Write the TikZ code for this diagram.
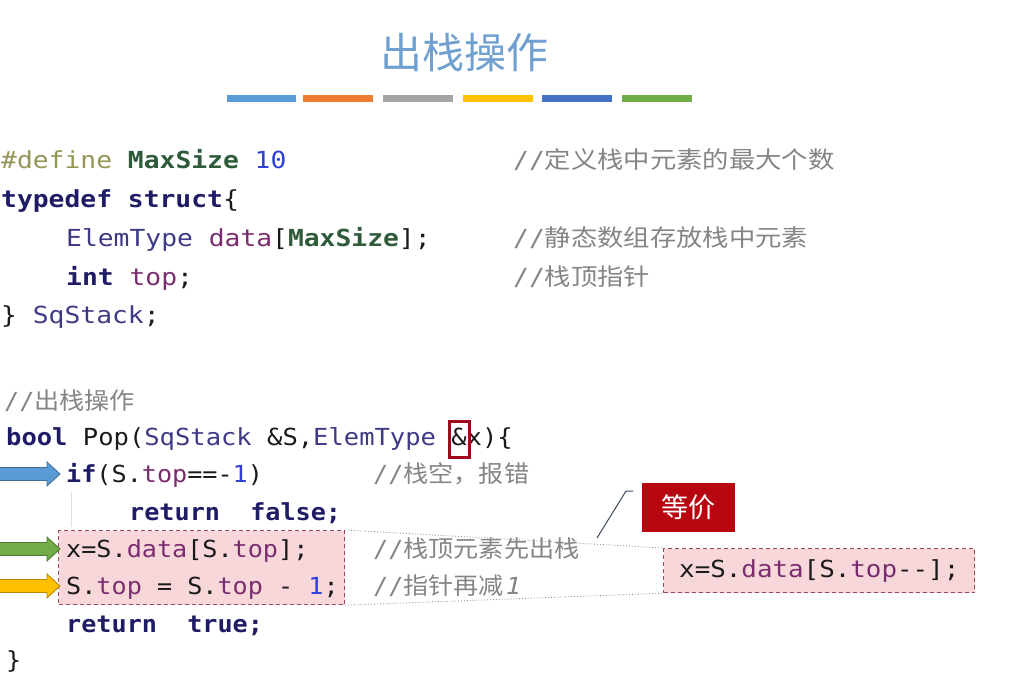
\documentclass[tikz,border=0pt]{standalone}
\usepackage{fontspec}
\usepackage{graphicx}
\setmonofont{DejaVu Sans Mono}
\newfontfamily\cjk{Noto Sans CJK SC}
\newfontfamily\slmono{DejaVu Sans Mono}[FakeSlant=0.2]
\definecolor{kwc}{HTML}{1F1C66}
\definecolor{tyc}{HTML}{3E3A86}
\definecolor{vrc}{HTML}{7A2D6E}
\definecolor{mcc}{HTML}{2F5B3B}
\definecolor{ppc}{HTML}{959558}
\definecolor{nuc}{HTML}{2F3FD8}
\definecolor{cmc}{HTML}{858585}
\definecolor{txc}{HTML}{1A1A1A}
\definecolor{titlec}{HTML}{6FA0D0}
\definecolor{barA}{HTML}{5B9BD5}
\definecolor{barB}{HTML}{ED7D31}
\definecolor{barC}{HTML}{A5A5A5}
\definecolor{barD}{HTML}{FFC000}
\definecolor{barE}{HTML}{4472C4}
\definecolor{barF}{HTML}{70AD47}
\definecolor{pinkf}{HTML}{F7D7DA}
\definecolor{pinkd}{HTML}{9A4A55}
\definecolor{ampred}{HTML}{A00A1E}
\definecolor{eqred}{HTML}{B80610}
\definecolor{dotc}{HTML}{7F9AB3}
\definecolor{calc}{HTML}{3A4A5A}
\newcommand\codefont{\fontsize{23.5}{28}\selectfont\ttfamily}
\newcommand\sx[2]{\scalebox{#1}[1]{#2}}
\newcommand\ckw[1]{\textcolor{kwc}{\bfseries #1}}
\newcommand\cty[1]{\textcolor{tyc}{#1}}
\newcommand\cvr[1]{\textcolor{vrc}{#1}}
\newcommand\cmac[1]{\textcolor{mcc}{\bfseries #1}}
\newcommand\cnu[1]{\textcolor{nuc}{#1}}
\newcommand\ccm[1]{\textcolor{cmc}{//{\cjk #1}}}
\newcommand\blockarrow[3]{\draw[draw=#3, fill=#2, line width=0.8pt]
  (-2,{#1+6.5}) -- (47,{#1+6.5}) -- (47,{#1+12}) -- (60,#1) -- (47,{#1-12}) -- (47,{#1-6.5}) -- (-2,{#1-6.5}) -- cycle;}
\begin{document}
\begin{tikzpicture}[x=1pt,y=1pt,
  code/.style={anchor=mid west, inner sep=0pt, font=\codefont, text=txc},
  pinkbox/.style={draw=pinkd, fill=pinkf, dashed, dash pattern=on 4pt off 3pt, line width=1.2pt, inner sep=0pt},
  dotline/.style={draw=dotc, dotted, line width=0.9pt},
  callout/.style={draw=calc, line width=1pt},
  guide/.style={draw=black!12, line width=0.8pt}]
\useasboundingbox (0,0) rectangle (1015,-699);
\fill[white] (0,0) rectangle (1015,-699);
% title
\node[inner sep=0pt, text=titlec, font=\cjk\fontsize{42}{46}\selectfont] (title) at (464,-53) {出栈操作};
\fill[barA] (227,-95) rectangle (296,-102);
\fill[barB] (303,-95) rectangle (373,-102);
\fill[barC] (383,-95) rectangle (453,-102);
\fill[barD] (463,-95) rectangle (533,-102);
\fill[barE] (542,-95) rectangle (612,-102);
\fill[barF] (622,-95) rectangle (692,-102);
% top block
\node[code] (l1) at (1,-166) {\sx{1.12}{\textcolor{ppc}{\#define} \cmac{MaxSize} \cnu{10}}};
\node[code] (l2) at (1,-205) {\sx{1.12}{\ckw{typedef struct}\{}};
\node[code] (l3) at (66,-244) {\sx{1.12}{\cty{ElemType} \cvr{data}[\cmac{MaxSize}];}};
\node[code] (l4) at (66,-283) {\sx{1.12}{\ckw{int} \cvr{top};}};
\node[code] (l5) at (1,-321) {\sx{1.12}{\} \cty{SqStack};}};
\node[code] (c1) at (513,-166) {\sx{1.12}{\ccm{定义栈中元素的最大个数}}};
\node[code] (c3) at (513,-244) {\sx{1.12}{\ccm{静态数组存放栈中元素}}};
\node[code] (c4) at (513,-283) {\sx{1.12}{\ccm{栈顶指针}}};
% lower block
\node[pinkbox, anchor=north west, minimum width=286pt, minimum height=74pt] (lbox) at (58,-530) {};
\node[pinkbox, anchor=north west, minimum width=311pt, minimum height=44pt] (rbox) at (663,-548) {};
\draw[guide] (71,-492) -- (71,-527);
\node[code] (l6) at (4,-407) {\sx{1.07}{\ccm{出栈操作}}};
\node[code] (l7) at (6,-443) {\sx{1.085}{\ckw{bool} Pop(\cty{SqStack} \&S,\cty{ElemType} \&x)\{}};
\node[code] (l8) at (66,-480) {\sx{1.07}{\ckw{if}(S.\cvr{top}==-\cnu{1})}};
\node[code] (c8) at (373,-480) {\sx{1.07}{\ccm{栈空，报错}}};
\node[code] (l9) at (129,-518) {\sx{1.07}{\ckw{return~~false;}}};
\node[code] (l10) at (66,-555) {\sx{1.07}{x=S.\cvr{data}[S.\cvr{top}];}};
\node[code] (c10) at (373,-555) {\sx{1.07}{\ccm{栈顶元素先出栈}}};
\node[code] (l11) at (66,-592) {\sx{1.07}{S.\cvr{top} = S.\cvr{top} - \cnu{1};}};
\node[code] (c11) at (373,-592) {\sx{1.07}{\ccm{指针再减}\textcolor{cmc}{\slmono 1}}};
\node[code] (l12) at (66,-630) {\sx{1.07}{\ckw{return~~true;}}};
\node[code] (l13) at (6,-666) {\sx{1.07}{\}}};
\node[code] (rtext) at (679,-575) {\sx{1.10}{x=S.\cvr{data}[S.\cvr{top}-{}-];}};
% red mark round &
\node[draw=ampred, line width=3pt, minimum width=20pt, minimum height=36pt, inner sep=0pt] (amp) at (459,-439) {};
% equivalence tag
\node[fill=eqred, text=white, minimum width=93pt, minimum height=49pt, inner sep=0pt, font=\cjk\fontsize{27}{30}\selectfont] (eq) at (688,-507) {等价};
\coordinate (k0) at (597,-538);
\coordinate (k1) at (626,-491);
\coordinate (k2) at (633,-491);
\draw[callout] (k0) -- (k1) -- (k2);
\draw[dotline] (lbox.north east) -- (rbox.north west);
\draw[dotline] (lbox.south east) -- (rbox.south west);
% arrows
\blockarrow{-474}{barA}{barA!70!black}
\blockarrow{-549}{barF}{barF!70!black}
\blockarrow{-586}{barD}{barD!70!black}
\end{tikzpicture}
\end{document}
